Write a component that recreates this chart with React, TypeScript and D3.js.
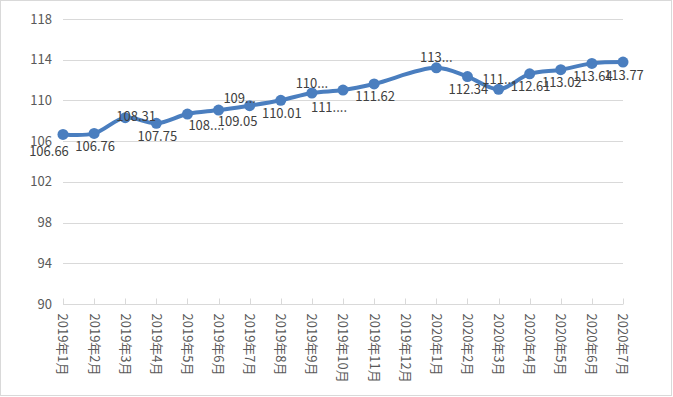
import React, { useEffect, useRef } from 'react'
import * as d3 from 'd3'

// months on the category axis
const months = [
  '2019年1月', '2019年2月', '2019年3月', '2019年4月', '2019年5月', '2019年6月',
  '2019年7月', '2019年8月', '2019年9月', '2019年10月', '2019年11月', '2019年12月',
  '2020年1月', '2020年2月', '2020年3月', '2020年4月', '2020年5月', '2020年6月', '2020年7月',
]

// index values (2019年12月 has no value)
const values: (number | null)[] = [
  106.66, 106.76, 108.31, 107.75, 108.66, 109.05, 109.48, 110.01, 110.73, 111.02,
  111.62, null, 113.2, 112.34, 111.09, 112.61, 113.02, 113.64, 113.77,
]

// data label text as shown (some labels are cut off)
const labelText: (string | null)[] = [
  '106.66', '106.76', '108.31', '107.75', '108....', '109.05', '109...', '110.01', '110...', '111....',
  '111.62', null, '113...', '112.34', '111...', '112.61', '113.02', '113.64', '113.77',
]

// where each label sits relative to its point
const labelPlace = [
  'bl', 'b', 'r', 'b', 'br', 'br', 'al', 'b', 'a', 'bl',
  'b', '', 'a', 'b', 'a', 'b', 'b', 'b', 'b',
]

const yTicks = [90, 94, 98, 102, 106, 110, 114, 118]

const W = 673
const H = 397
const margin = { left: 63, right: 50, top: 19, bottom: 93 }

const App = () => {
  const ref = useRef<SVGSVGElement>(null)

  useEffect(() => {
    document.body.style.margin = '0'
    const svg = d3.select(ref.current)
    svg.selectAll('*').remove()

    const x = d3.scalePoint<string>()
      .domain(months)
      .range([margin.left, W - margin.right])

    const y = d3.scaleLinear()
      .domain([90, 118])
      .range([H - margin.bottom, margin.top])

    const font = "'Noto Sans CJK SC', 'Noto Sans', sans-serif"

    // outer border
    svg.append('rect')
      .attr('x', 0.5).attr('y', 0.5)
      .attr('width', W - 2).attr('height', H - 2)
      .attr('fill', '#fff')
      .attr('stroke', '#d9d9d9')

    // gridlines
    svg.append('g')
      .selectAll('line')
      .data(yTicks)
      .join('line')
      .attr('x1', margin.left)
      .attr('x2', W - margin.right)
      .attr('y1', d => Math.round(y(d)) + 0.5)
      .attr('y2', d => Math.round(y(d)) + 0.5)
      .attr('stroke', '#d9d9d9')

    // y labels
    svg.append('g')
      .selectAll('text')
      .data(yTicks)
      .join('text')
      .attr('x', 52)
      .attr('y', d => y(d))
      .attr('dy', '0.35em')
      .attr('text-anchor', 'end')
      .attr('font-family', font)
      .attr('font-size', 13)
      .attr('fill', '#595959')
      .text(d => d)

    // category ticks (inside)
    const y0 = Math.round(y(90)) + 0.5
    svg.append('g')
      .selectAll('line')
      .data(months)
      .join('line')
      .attr('x1', d => Math.round(x(d)!) + 0.5)
      .attr('x2', d => Math.round(x(d)!) + 0.5)
      .attr('y1', y0)
      .attr('y2', y0 - 6)
      .attr('stroke', '#d9d9d9')

    // x labels, rotated
    svg.append('g')
      .selectAll('text')
      .data(months)
      .join('text')
      .attr('transform', d => `translate(${x(d)},${y0 + 9}) rotate(90)`)
      .attr('dy', '0.35em')
      .attr('font-family', font)
      .attr('font-size', 13)
      .attr('fill', '#595959')
      .text(d => d)

    const pts = months
      .map((m, i) => ({ m, v: values[i], t: labelText[i], p: labelPlace[i] }))
      .filter(d => d.v !== null)

    const line = d3.line<any>()
      .x(d => x(d.m)!)
      .y(d => y(d.v))
      .curve(d3.curveCatmullRom.alpha(0.5))

    svg.append('path')
      .datum(pts)
      .attr('d', line)
      .attr('fill', 'none')
      .attr('stroke', '#4a7ebf')
      .attr('stroke-width', 4)
      .attr('stroke-linejoin', 'round')

    svg.append('g')
      .selectAll('circle')
      .data(pts)
      .join('circle')
      .attr('cx', d => x(d.m)!)
      .attr('cy', d => y(d.v))
      .attr('r', 5.5)
      .attr('fill', '#4a7ebf')

    // label offsets by placement
    const off: Record<string, [number, number]> = {
      b: [1, 13], a: [0, -10], r: [11, -1], bl: [-14, 17], br: [19, 11], al: [-10, -7],
    }

    svg.append('g')
      .selectAll('text')
      .data(pts)
      .join('text')
      .attr('x', d => x(d.m)! + off[d.p][0])
      .attr('y', d => y(d.v) + off[d.p][1])
      .attr('dy', '0.35em')
      .attr('text-anchor', 'middle')
      .attr('font-family', font)
      .attr('font-size', 13)
      .attr('fill', '#404040')
      .text(d => d.t)
  }, [])

  return <svg ref={ref} width={W} height={H} style={{ display: 'block' }} />
}

export default App
